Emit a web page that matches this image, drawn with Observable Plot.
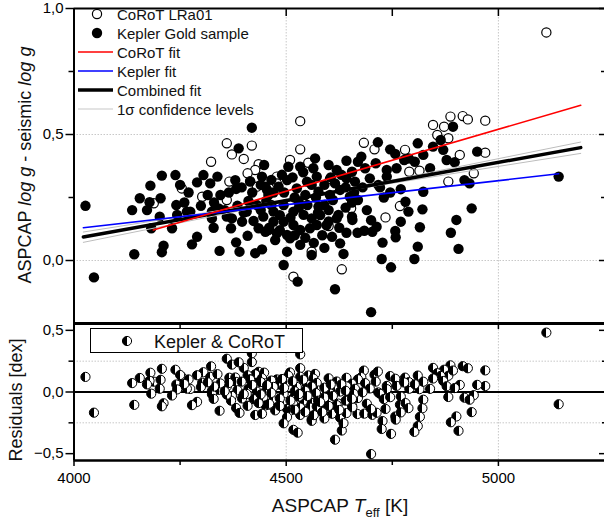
<!DOCTYPE html>
<html><head><meta charset="utf-8">
<script src="https://cdn.jsdelivr.net/npm/d3@7"></script>
<script src="https://cdn.jsdelivr.net/npm/@observablehq/plot@0.6"></script>
<style>
body{margin:0;background:#fff;font-family:"Liberation Sans",Arial,sans-serif;}
#wrap{position:relative;width:604px;height:522px;overflow:hidden;background:#fff;}
#wrap svg{position:absolute;left:0;top:0;}
</style></head><body>
<svg width="0" height="0" style="position:absolute"><defs>
<linearGradient id="halfFill" x1="0" x2="1" y1="0" y2="0">
<stop offset="0.5" stop-color="black"/><stop offset="0.5" stop-color="white"/>
</linearGradient></defs></svg>
<div id="wrap"></div>
<script>
// ---------- data ----------
const corotTeff = [4360,4419,4372,4400,4435,4427,4409,4323,4254,4302,
  4360,4366,4415,4431,4188,4533,4533,4509,4478,4478,
  4552,4560,4517,4887,4916,4928,4969,4846,4872,4856,
  4882,4683,4708,4780,4909,4969,4790,4814,4942,4882,
  4603,4768,4734,4600,4631,4653,5113];
const corotDiff = [0.465,0.456,0.421,0.403,0.382,0.359,0.346,0.392,0.286,0.253,
  0.240,0.313,0.315,0.293,0.227,0.553,0.441,0.399,0.333,0.306,
  0.388,0.035,-0.064,0.571,0.573,0.560,0.555,0.538,0.531,0.498,
  0.485,0.467,0.441,0.439,0.419,0.428,0.352,0.356,0.346,0.313,
  0.323,0.216,0.171,0.137,-0.035,0.207,0.905];

const keplerTeff = [4027,4047,4419,4388,4448,4505,4533,4568,4564,4207,
  4239,4180,4155,4204,4178,4137,4172,4241,4305,4321,
  4338,4380,4382,4415,4443,4451,4458,4482,4502,4525,
  4549,4572,4299,4274,4325,4341,4385,4411,4431,4453,
  4470,4494,4517,4541,4560,4202,4243,4266,4325,4372,
  4396,4423,4446,4470,4494,4517,4533,4556,4572,4231,
  4329,4370,4182,4451,4478,4502,4409,4474,4509,4533,
  4290,4278,4211,4207,4142,4343,4382,4390,4427,4443,
  4502,4560,4494,4527,4893,4864,4846,4870,4810,4716,
  4745,4757,4789,4823,4878,4897,4950,4677,4669,4642,
  4600,4619,4655,4686,4711,4737,4760,4778,4803,4839,
  4615,4642,4662,4697,4717,4737,4920,4932,5142,4576,
  4603,4627,4650,4669,4721,4770,4823,4781,4788,4821,
  4937,4576,4600,4623,4655,4619,4608,4627,4635,4642,
  4668,4684,4703,4713,4656,4757,4758,4770,4815,4901,
  4888,4727,4810,4906,4725,4747,4802,4615,4700,4458,
  4435,4407,4360,4440,4465,4490,4515,4540,4560,4470,
  4495,4520,4545,4570,4440,4465,4485,4510,4530,4550,
  4575,4460,4485,4520,4545,4565,4590,4595,4590,4590,
  4605,4630,4640,4660,4610,4640,4625,4600,4585,4420,
  4395,4365,4345,4355,4330,4290,4270,4250,4260,4315,
  4400,4455,4530,4580,4690,4730,4655,4700,4745,4680];
const keplerDiff = [0.217,-0.067,0.527,0.445,0.379,0.372,0.372,0.405,0.366,0.337,
  0.339,0.297,0.247,0.247,0.231,0.200,0.200,0.220,0.339,0.306,
  0.333,0.319,0.284,0.313,0.333,0.293,0.260,0.293,0.319,0.286,
  0.313,0.333,0.217,0.194,0.194,0.207,0.217,0.236,0.220,0.236,
  0.194,0.220,0.194,0.181,0.167,0.174,0.181,0.194,0.167,0.167,
  0.154,0.157,0.174,0.154,0.154,0.141,0.121,0.128,0.141,0.128,
  0.130,0.128,0.128,0.114,0.108,0.101,0.098,0.081,0.088,0.062,
  0.094,0.064,0.059,0.033,0.025,0.038,0.072,0.035,0.029,0.044,
  0.035,0.022,-0.018,-0.084,0.531,0.478,0.452,0.439,0.465,0.469,
  0.441,0.423,0.405,0.419,0.399,0.390,0.432,0.412,0.392,0.396,
  0.379,0.359,0.352,0.366,0.386,0.359,0.366,0.399,0.392,0.366,
  0.306,0.326,0.313,0.326,0.300,0.333,0.319,0.306,0.333,0.273,
  0.260,0.280,0.253,0.240,0.290,0.283,0.273,0.233,0.194,0.203,
  0.207,0.214,0.200,0.181,0.174,0.167,0.094,0.068,0.026,0.110,
  0.110,0.118,0.114,0.134,0.161,0.117,0.092,0.154,0.132,0.161,
  0.110,0.071,0.055,0.046,0.006,-0.027,0.006,-0.114,-0.205,0.121,
  0.128,0.194,0.174,0.300,0.320,0.340,0.330,0.350,0.300,0.270,
  0.270,0.250,0.260,0.250,0.200,0.220,0.180,0.170,0.210,0.220,
  0.190,0.130,0.120,0.100,0.090,0.070,0.050,0.140,0.220,0.300,
  0.330,0.340,0.290,0.270,0.240,0.210,0.130,0.155,0.100,0.270,
  0.290,0.270,0.260,0.200,0.230,0.310,0.270,0.300,0.230,0.260,
  0.190,0.280,0.230,0.180,0.200,0.250,0.230,0.160,0.270,0.290];

// fit lines (end points)
const corotFitTeff = [4187, 5194];   const corotFitVal = [0.121, 0.616];
const keplerFitTeff = [4022, 5142];  const keplerFitVal = [0.130, 0.344];
const combFitTeff = [4022, 5194];    const combFitVal = [0.093, 0.448];
const confATeff = [4022, 5194];      const confAVal = [0.072, 0.470];
const confBTeff = [4022, 5194];      const confBVal = [0.113, 0.425];

// axes
const xDomain = [4000, 5250];
const yTopDomain = [-0.25, 1.0];
const yBotDomain = [-0.5555, 0.5555];
const xMajorTicks = [4000, 4500, 5000];
const xMinorTicks = [4250, 4750];
const yTopMajor = [0, 0.5, 1.0];
const yTopMinor = [0.25, 0.75];
const yBotMajor = [-0.5, 0, 0.5];
const yBotMinor = [-0.25, 0.25];

// ---------- build ----------
const pts = (ts, vs) => ts.map((t, i) => ({T: t, v: vs[i]}));
const corot = pts(corotTeff, corotDiff);
const kepler = pts(keplerTeff, keplerDiff);
const fitAt = T => combFitVal[0] + (combFitVal[1] - combFitVal[0]) * (T - combFitTeff[0]) / (combFitTeff[1] - combFitTeff[0]);
const residuals = [...corot, ...kepler].map(d => ({T: d.T, r: d.v - fitAt(d.T)}));

const FONT = '"Liberation Sans", Arial, sans-serif';
const fmt = d => d3.format(".1f")(d).replace(".", ",");
const none = () => "";
const grid = {stroke: "#c8c8c8", strokeDasharray: "1.5,1.5", strokeWidth: 1};

const topPlot = Plot.plot({
  width: 604, height: 324, marginTop: 8, marginBottom: 1, marginLeft: 73.5, marginRight: 0,
  style: {background: "transparent", fontFamily: FONT, overflow: "visible"},
  x: {domain: xDomain, axis: null},
  y: {domain: yTopDomain, axis: null},
  marks: [
    Plot.ruleY([0, 0.5], grid),
    Plot.ruleX([4500, 5000], grid),
    Plot.dot(corot, {x: "T", y: "v", r: 4.6, fill: "white", stroke: "black", strokeWidth: 1.2}),
    Plot.dot(kepler, {x: "T", y: "v", r: 5.2, fill: "black"}),
    Plot.line(pts(confATeff, confAVal), {x: "T", y: "v", stroke: "#bdbdbd", strokeWidth: 1}),
    Plot.line(pts(confBTeff, confBVal), {x: "T", y: "v", stroke: "#bdbdbd", strokeWidth: 1}),
    Plot.line(pts(combFitTeff, combFitVal), {x: "T", y: "v", stroke: "black", strokeWidth: 3.5}),
    Plot.line(pts(keplerFitTeff, keplerFitVal), {x: "T", y: "v", stroke: "#0000ff", strokeWidth: 1.6}),
    Plot.line(pts(corotFitTeff, corotFitVal), {x: "T", y: "v", stroke: "#ff0000", strokeWidth: 1.6}),
    Plot.ruleY([1.0], {strokeWidth: 2}),
    Plot.ruleX([4000], {strokeWidth: 2}),
    Plot.axisY(yTopMajor, {anchor: "left", tickSize: 8, tickPadding: 2.5, tickFormat: fmt, fontSize: 15, label: null, strokeWidth: 1.5}),
    Plot.axisY(yTopMinor, {anchor: "left", tickSize: 5, tickFormat: none, label: null, strokeWidth: 1.5}),
    Plot.axisY(yTopMajor, {anchor: "right", tickSize: 6, dx: -6, tickFormat: none, label: null, strokeWidth: 1.5}),
    Plot.axisY(yTopMinor, {anchor: "right", tickSize: 4, dx: -4, tickFormat: none, label: null, strokeWidth: 1.5}),
    Plot.axisX([4500, 4750, 5000], {anchor: "top", tickSize: 7, dy: 7, tickFormat: none, label: null, strokeWidth: 1.5})
  ]
});

const botPlot = Plot.plot({
  width: 604, height: 522, marginTop: 323, marginBottom: 62, marginLeft: 73.5, marginRight: 0,
  style: {background: "transparent", fontFamily: FONT, overflow: "visible"},
  x: {domain: xDomain, axis: null},
  y: {domain: yBotDomain, axis: null},
  marks: [
    Plot.ruleY(yBotMinor, grid),
    Plot.ruleX([4500, 5000], grid),
    Plot.ruleY([0], {strokeWidth: 2}),
    Plot.dot(residuals, {x: "T", y: "r", r: 4.6, fill: "url(#halfFill)", stroke: "black", strokeWidth: 1}),
    Plot.ruleX([4000], {strokeWidth: 2}),
    Plot.ruleY([yBotDomain[0]], {strokeWidth: 2.5}),
    Plot.ruleY([yBotDomain[1]], {strokeWidth: 2.8}),
    Plot.axisY(yBotMajor, {anchor: "left", tickSize: 8, tickPadding: 2.5, tickFormat: fmt, fontSize: 15, label: null, strokeWidth: 1.5}),
    Plot.axisY(yBotMinor, {anchor: "left", tickSize: 5, tickFormat: none, label: null, strokeWidth: 1.5}),
    Plot.axisY([-0.5, 0.5], {anchor: "right", tickSize: 6, dx: -6, tickFormat: none, label: null, strokeWidth: 1.5}),
    Plot.axisY(yBotMinor, {anchor: "right", tickSize: 3, dx: -3, tickFormat: none, label: null, strokeWidth: 1.5}),
    Plot.axisX([4250, 4500, 4750, 5000], {anchor: "top", tickSize: 5, dy: 5, tickFormat: none, label: null, strokeWidth: 1.5}),
    Plot.axisX(xMajorTicks, {anchor: "bottom", tickSize: 6, tickPadding: 6, tickFormat: d3.format("d"), fontSize: 15, label: null, strokeWidth: 1.5}),
    Plot.axisX(xMinorTicks, {anchor: "bottom", tickSize: 5, tickFormat: none, label: null, strokeWidth: 1.5})
  ]
});

const wrap = document.getElementById("wrap");
wrap.appendChild(topPlot);
wrap.appendChild(botPlot);

// ---------- legends and axis titles ----------
const ov = d3.select(wrap).append("svg").attr("width", 604).attr("height", 522)
  .style("font-family", FONT);

const lx = 97, tx = 117, rows = [14, 33, 52, 71, 90, 109];
ov.append("circle").attr("cx", lx).attr("cy", rows[0]).attr("r", 4.6).attr("fill", "white").attr("stroke", "black").attr("stroke-width", 1.2);
ov.append("circle").attr("cx", lx).attr("cy", rows[1]).attr("r", 5.2).attr("fill", "black");
const lineItems = [["#ff0000", 1.6, 2], ["#0000ff", 1.6, 3], ["black", 3.5, 4], ["#c8c8c8", 1.2, 5]];
lineItems.forEach(([c, w, i]) => ov.append("line").attr("x1", 78).attr("x2", 113).attr("y1", rows[i]).attr("y2", rows[i]).attr("stroke", c).attr("stroke-width", w));
const labels = ["CoRoT LRa01", "Kepler Gold sample", "CoRoT fit", "Kepler fit", "Combined fit", "1σ confidence levels"];
labels.forEach((t, i) => ov.append("text").attr("x", tx).attr("y", rows[i] + 5.5).attr("font-size", 15).attr("fill", "#111").text(t));

// residual legend box
ov.append("rect").attr("x", 90.5).attr("y", 328.5).attr("width", 212).attr("height", 24).attr("fill", "white").attr("stroke", "black").attr("stroke-width", 1);
ov.append("circle").attr("cx", 127).attr("cy", 341).attr("r", 4.6).attr("fill", "url(#halfFill)").attr("stroke", "black");
ov.append("text").attr("x", 154).attr("y", 347.5).attr("font-size", 18).attr("fill", "#111").text("Kepler & CoRoT");

// axis titles
const xt = ov.append("text").attr("x", 340).attr("y", 512).attr("text-anchor", "middle").attr("font-size", 19).attr("fill", "#111");
xt.append("tspan").text("ASPCAP ");
xt.append("tspan").attr("font-style", "italic").text("T");
xt.append("tspan").attr("font-size", 13).attr("dy", 5).text("eff");
xt.append("tspan").attr("dy", -5).text("  [K]");

const yt = ov.append("text").attr("transform", "translate(31,165) rotate(-90)").attr("text-anchor", "middle").attr("font-size", 18).attr("fill", "#111");
yt.append("tspan").text("ASPCAP ");
yt.append("tspan").attr("font-style", "italic").text("log g");
yt.append("tspan").text("  -  seismic ");
yt.append("tspan").attr("font-style", "italic").text("log g");

ov.append("text").attr("transform", "translate(22,400) rotate(-90)").attr("text-anchor", "middle").attr("font-size", 18).attr("fill", "#111").text("Residuals [dex]");
</script>
</body></html>
